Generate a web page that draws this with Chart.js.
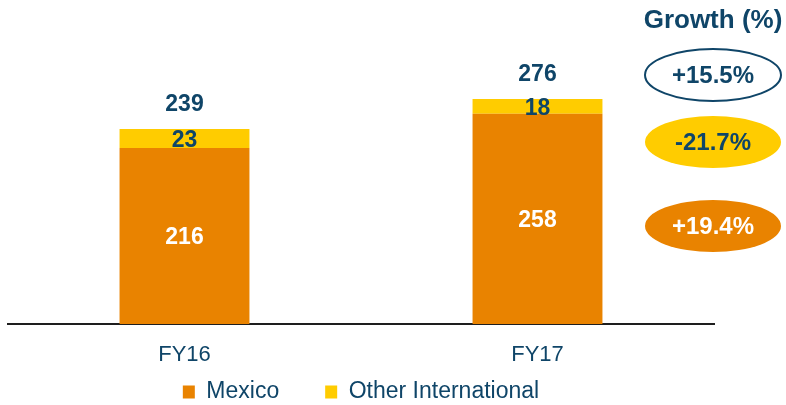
<!DOCTYPE html>
<html>
<head>
<meta charset="utf-8">
<script src="https://cdn.jsdelivr.net/npm/chart.js@4"></script>
<style>
  html, body { margin: 0; padding: 0; background: #fff; }
  #wrap { width: 786px; height: 405px; }
</style>
</head>
<body>
<div id="wrap"><canvas id="revChart"></canvas></div>
<script>
const years = ['FY16', 'FY17'];
const mexico = [216, 258];
const otherIntl = [23, 18];
const totals = [239, 276];
const growthLabels = ['+15.5%', '-21.7%', '+19.4%'];

const ORANGE = '#E98300';
const YELLOW = '#FFCC00';
const NAVY = '#0F4568';
const FONT = 'Arial, "Liberation Sans", sans-serif';

// value labels inside and on top of the bars
const barLabels = {
  id: 'barLabels',
  afterDatasetsDraw(chart) {
    const ctx = chart.ctx;
    ctx.save();
    ctx.font = 'bold 23px ' + FONT;
    ctx.textAlign = 'center';
    ctx.textBaseline = 'middle';
    chart.data.datasets.forEach((ds, i) => {
      const meta = chart.getDatasetMeta(i);
      meta.data.forEach((bar, j) => {
        ctx.fillStyle = i === 0 ? '#fff' : NAVY;
        ctx.fillText(ds.data[j], bar.x, (bar.y + bar.base) / 2 + 2);
      });
    });
    const top = chart.getDatasetMeta(1);
    top.data.forEach((bar, j) => {
      ctx.fillStyle = NAVY;
      ctx.fillText(totals[j], bar.x, bar.y - 24);
    });
    ctx.restore();
  }
};

// growth bubbles on the right
const growthBubbles = {
  id: 'growthBubbles',
  afterDraw(chart) {
    const ctx = chart.ctx;
    const cx = 713;
    const rows = [
      { y: 75, fill: '#fff', stroke: NAVY, text: NAVY },
      { y: 142, fill: YELLOW, stroke: null, text: NAVY },
      { y: 226, fill: ORANGE, stroke: null, text: '#fff' }
    ];
    ctx.save();
    ctx.textAlign = 'center';
    ctx.textBaseline = 'middle';
    ctx.fillStyle = NAVY;
    ctx.font = 'bold 26px ' + FONT;
    ctx.fillText('Growth (%)', cx, 21);
    rows.forEach((r, i) => {
      ctx.beginPath();
      ctx.ellipse(cx, r.y, 68, 26, 0, 0, Math.PI * 2);
      ctx.fillStyle = r.fill;
      ctx.fill();
      if (r.stroke) {
        ctx.lineWidth = 2;
        ctx.strokeStyle = r.stroke;
        ctx.stroke();
      }
      ctx.fillStyle = r.text;
      ctx.font = 'bold 24px ' + FONT;
      ctx.fillText(growthLabels[i], cx, r.y + 1);
    });
    ctx.restore();
  }
};

const data = {
  labels: years,
  datasets: [
    { label: 'Mexico', data: mexico, backgroundColor: ORANGE },
    { label: 'Other International', data: otherIntl, backgroundColor: YELLOW }
  ]
};

const config = {
  type: 'bar',
  data: data,
  plugins: [barLabels, growthBubbles],
  options: {
    responsive: true,
    maintainAspectRatio: false,
    animation: false,
    datasets: {
      bar: { categoryPercentage: 1, barPercentage: 0.368 }
    },
    layout: { padding: { left: 8, right: 72, top: 6, bottom: -8.5 } },
    plugins: {
      legend: {
        position: 'bottom',
        labels: {
          boxWidth: 12,
          boxHeight: 13,
          padding: 46,
          color: NAVY,
          font: { size: 23, family: FONT, lineHeight: 1 }
        }
      },
      tooltip: { enabled: false }
    },
    scales: {
      x: {
        stacked: true,
        grid: { display: false, drawTicks: false },
        border: { display: true, color: '#1e1e1e', width: 2 },
        ticks: { color: NAVY, padding: 18, font: { size: 22, family: FONT } },
        afterFit: s => {
          // legend gap is wide, so the axis box is short; let labels spill below it
          s.height = 10.5;
          s._computeLabelArea = () => undefined;
        }
      },
      y: {
        stacked: true,
        display: false,
        min: 0,
        max: 390
      }
    }
  }
};

const myChart = new Chart(document.getElementById('revChart'), config);
</script>
</body>
</html>
